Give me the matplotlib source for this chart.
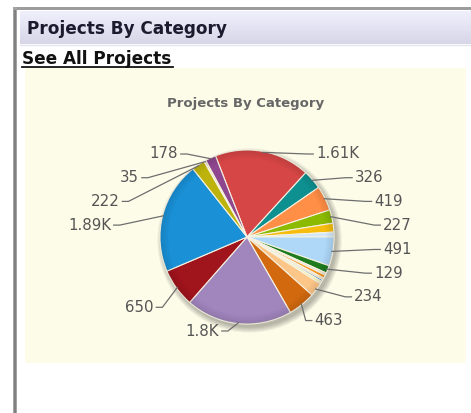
import numpy as np
import matplotlib
matplotlib.use("Agg")
import matplotlib.pyplot as plt
from matplotlib.patches import Rectangle, Circle, Wedge

# data, clockwise from the top
values = [1610, 326, 419, 227, 150, 80, 491, 129, 40, 55, 35, 30, 45,
          234, 463, 1800, 650, 1890, 222, 35, 178]
labels = ["1.61K", "326", "419", "227", "", "", "491", "129", "", "", "", "", "",
          "234", "463", "1.8K", "650", "1.89K", "222", "35", "178"]
colors = ["#D64646", "#0E9090", "#FF8E46", "#8BBA00", "#F6BD0F", "#D2E8F8",
          "#AFD8F8", "#1E7B1E", "#E8E0D0", "#F7941C", "#F5D5B0", "#1A6FC0",
          "#F0F0B0", "#FDC689", "#D2690F", "#A186BE", "#A0141C", "#1A90D6",
          "#BDB30C", "#EDE8B0", "#8E468E"]

W, H = 471, 413
CX, CY, R = 247, 237, 87  # pie centre / radius in pixels

fig = plt.figure(figsize=(W / 100, H / 100), dpi=100)
fig.patch.set_facecolor("white")

# page decoration in pixel coords
bg = fig.add_axes([0, 0, 1, 1])
bg.set_xlim(0, W)
bg.set_ylim(H, 0)
bg.axis("off")
bg.add_patch(Rectangle((13, 7), W - 13, 3, color="#9c9c9c", lw=0))
bg.add_patch(Rectangle((13, 7), 4, H - 7, color="#a4a4a4", lw=0))
bg.add_patch(Rectangle((14, 10), 1.5, H - 10, color="#808080", lw=0))
grad = np.linspace(0, 1, 50).reshape(-1, 1)
top = np.array([0.94, 0.94, 0.99])
bot = np.array([0.84, 0.84, 0.91])
img = top + (bot - top) * grad[..., None]
bg.imshow(img, extent=[20, W, 44, 11], aspect="auto", zorder=1)
bg.plot([20, W], [44.5, 44.5], color="#e4e4f0", lw=1)
bg.text(27, 29, "Projects By Category", fontsize=12.2, fontweight="bold",
        color="#1b1b2f", va="center", ha="left")
bg.text(22, 59, "See All Projects", fontsize=12.2, fontweight="bold",
        color="#111111", va="center", ha="left")
bg.plot([22, 173], [67, 67], color="#111111", lw=1.3)
bg.add_patch(Rectangle((25, 68), 441, 295, fc="#FDFCE9", ec="none"))
bg.text(246, 103, "Projects By Category", fontsize=9.5, fontweight="bold",
        color="#666666", va="center", ha="center")

# pie axes: 1 unit = R pixels
ax = fig.add_axes([0, 0, 1, 1])
ax.patch.set_visible(False)

# soft drop shadow
for i in range(6):
    ax.add_patch(Circle((0.03, -0.04), 1.0 + 0.012 * i, color="#000000",
                        alpha=0.05, lw=0, zorder=0.5))

wedges, _ = ax.pie(values, colors=colors, startangle=111.2, counterclock=False,
                   radius=1, wedgeprops=dict(edgecolor="#f6f2e2", linewidth=0.8))

# rim darkening for the 3D look
for i in range(8):
    r = 1.0 - 0.012 * i
    ax.add_patch(Wedge((0, 0), r, 0, 360, width=0.012, color="#000000",
                       alpha=0.10 * (8 - i) / 8, lw=0, zorder=3))

ax.set_xlim(-CX / R, (W - CX) / R)
ax.set_ylim(-(H - CY) / R, CY / R)
ax.set_aspect("auto")
ax.axis("off")


def spread(ys, gap, lo, hi):
    # group overlapping labels into clusters centred on their mean, then clamp
    clusters = [[y] for y in ys]
    while True:
        starts = [np.mean(c) - (len(c) - 1) * gap / 2 for c in clusters]
        hit = None
        for i in range(len(clusters) - 1):
            end_i = starts[i] + (len(clusters[i]) - 1) * gap
            if starts[i + 1] - end_i < gap:
                hit = i
                break
        if hit is None:
            break
        clusters[hit] = clusters[hit] + clusters.pop(hit + 1)
    pos = []
    for s, c in zip(starts, clusters):
        pos += [s + k * gap for k in range(len(c))]
    for i in range(len(pos)):
        pos[i] = max(pos[i], lo if i == 0 else pos[i - 1] + gap)
    for i in range(len(pos) - 1, -1, -1):
        pos[i] = min(pos[i], hi if i == len(pos) - 1 else pos[i + 1] - gap)
    return pos


# smart labels in pixel space, each side stacked
side_b = {"right": 100, "left": 125}
items = {"right": [], "left": []}
for w, lab in zip(wedges, labels):
    if not lab:
        continue
    mid = np.deg2rad((w.theta1 + w.theta2) / 2)
    side = "right" if np.cos(mid) > 0 else "left"
    items[side].append((CY - side_b[side] * np.sin(mid), mid, lab))

for side, lst in items.items():
    lst.sort(key=lambda t: t[0])
    ys = spread([t[0] for t in lst], 23.7, 154, 331)
    sgn = 1 if side == "right" else -1
    for yp, (_, mid, lab) in zip(ys, lst):
        xp = CX + sgn * 137 * np.sqrt(max(0.0, 1 - ((yp - CY) / 96) ** 2))
        x, y = (xp - CX) / R, (CY - yp) / R
        rx, ry = 0.99 * np.cos(mid), 0.99 * np.sin(mid)
        ax.plot([rx, x - sgn * 0.1, x - sgn * 0.03], [ry, y, y],
                color="#6e6e6e", lw=0.9, zorder=4, clip_on=False)
        ax.text(x, y, lab, fontsize=10.8, color="#555555",
                ha="left" if sgn > 0 else "right", va="center", zorder=5)

fig.savefig("out.png", dpi=100)
